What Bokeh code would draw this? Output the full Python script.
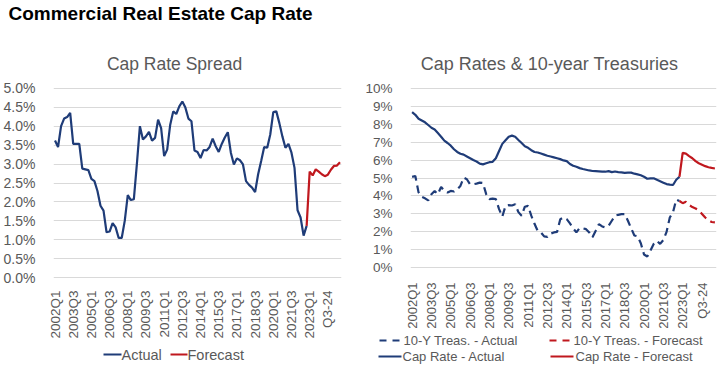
import math
from bokeh.plotting import figure
from bokeh.layouts import row, column
from bokeh.models import Range1d, FixedTicker, PrintfTickFormatter
from bokeh.core.properties import value
from bokeh.embed import file_html
from bokeh.resources import INLINE

# ---------------- data ----------------
N_QUARTERS = 95  # 2002Q1 .. 2025Q3
quarters = []
for i in range(N_QUARTERS):
    yr, q = 2002 + i // 4, i % 4 + 1
    quarters.append(f"{yr}Q{q}" if i <= 84 else f"Q{q}-{yr % 100:02d}")

tick_labels = ["2002Q1", "2003Q3", "2005Q1", "2006Q3", "2008Q1", "2009Q3", "2011Q1", "2012Q3",
               "2014Q1", "2015Q3", "2017Q1", "2018Q3", "2020Q1", "2021Q3", "2023Q1", "Q3-24"]

spread_actual = [3.62, 3.45, 4.00, 4.20, 4.24, 4.35, 3.53, 3.53, 3.53, 2.88,
                 2.86, 2.84, 2.61, 2.55, 2.29, 1.90, 1.77, 1.20, 1.22, 1.44,
                 1.33, 1.05, 1.05, 1.50, 2.18, 2.05, 2.07, 3.00, 4.00, 3.65,
                 3.73, 3.85, 3.62, 3.69, 4.17, 3.95, 3.21, 3.38, 4.04, 4.39,
                 4.32, 4.52, 4.65, 4.49, 4.20, 4.13, 3.36, 3.32, 3.16, 3.37,
                 3.36, 3.45, 3.67, 3.47, 3.32, 3.53, 3.70, 3.84, 3.30, 2.99,
                 3.15, 3.10, 2.99, 2.55, 2.45, 2.38, 2.26, 2.73, 3.08, 3.45,
                 3.43, 3.78, 4.37, 4.39, 4.08, 3.73, 3.43, 3.53, 3.30, 2.90,
                 1.78, 1.59, 1.11, 1.37]
spread_forecast = [1.37, 2.80, 2.70, 2.86, 2.80, 2.73, 2.68, 2.72, 2.85, 2.95, 2.96, 3.05]

cap_actual = [8.67, 8.52, 8.30, 8.20, 8.10, 7.95, 7.80, 7.70, 7.50, 7.30,
              7.08, 6.95, 6.80, 6.60, 6.45, 6.35, 6.30, 6.20, 6.10, 6.00,
              5.92, 5.80, 5.76, 5.82, 5.88, 5.90, 6.10, 6.50, 6.90, 7.10,
              7.30, 7.36, 7.30, 7.12, 6.95, 6.77, 6.68, 6.55, 6.45, 6.42,
              6.36, 6.30, 6.24, 6.20, 6.15, 6.10, 6.05, 5.98, 5.94, 5.78,
              5.68, 5.63, 5.55, 5.50, 5.46, 5.42, 5.39, 5.38, 5.37, 5.36,
              5.35, 5.38, 5.33, 5.36, 5.33, 5.31, 5.29, 5.30, 5.30, 5.24,
              5.20, 5.15, 5.07, 4.96, 4.98, 4.98, 4.90, 4.82, 4.74, 4.66,
              4.63, 4.61, 4.90, 5.07]
cap_forecast = [5.07, 6.40, 6.36, 6.22, 6.10, 5.94, 5.82, 5.74, 5.66, 5.60, 5.56, 5.53]

treas_actual = [5.06, 5.11, 4.20, 3.95, 3.87, 3.75, 4.10, 4.28, 4.10, 4.50,
                4.28, 4.19, 4.28, 4.25, 4.37, 4.56, 5.02, 4.93, 4.65, 4.65,
                4.69, 4.74, 4.72, 4.10, 3.82, 3.85, 3.82, 3.27, 2.85, 3.45,
                3.49, 3.47, 3.54, 3.10, 2.90, 3.40, 3.45, 2.90, 2.45, 2.05,
                1.97, 1.75, 1.72, 1.90, 1.97, 2.00, 2.70, 2.80, 2.71, 2.47,
                2.20, 1.97, 2.21, 2.20, 2.15, 1.97, 1.70, 2.06, 2.43, 2.30,
                2.25, 2.34, 2.62, 2.90, 2.95, 2.99, 2.99, 2.62, 2.20, 1.80,
                1.75, 1.37, 0.74, 0.63, 0.96, 1.33, 1.50, 1.33, 1.55, 2.00,
                2.80, 3.10, 3.80, 3.72]
treas_forecast = [3.72, 3.60, 3.68, 3.50, 3.38, 3.30, 3.20, 3.00, 2.80, 2.65, 2.55, 2.53]

spread_ticks = [0.0, 0.5, 1.0, 1.5, 2.0, 2.5, 3.0, 3.5, 4.0, 4.5, 5.0]
rate_ticks = [0, 1, 2, 3, 4, 5, 6, 7, 8, 9, 10]

main_title = "Commercial Real Estate Cap Rate"
subtitles = ["Cap Rate Spread", "Cap Rates & 10-year Treasuries"]
legend_left = ["Actual", "Forecast"]
legend_right = ["10-Y Treas. - Actual", "10-Y Treas. - Forecast", "Cap Rate - Actual", "Cap Rate - Forecast"]

# ---------------- style ----------------
FONT = "Liberation Sans"
GRAY = "#595959"
GRID = "#D9D9D9"
BLUE = "#1F3C78"
RED = "#C0181E"
LW = 2.2
DASH = "8 5"
HEADER_H = 77

x_act = list(range(len(spread_actual)))
x_fc = list(range(len(spread_actual) - 1, len(spread_actual) - 1 + len(spread_forecast)))
tick_pos = [quarters.index(t) for t in tick_labels]


def blank_fig(w, h):
    p = figure(width=w, height=h, x_range=Range1d(0, w), y_range=Range1d(0, h),
               output_backend="svg", toolbar_location=None,
               x_axis_location=None, y_axis_location=None,
               min_border=0, min_border_left=0, min_border_right=0,
               min_border_top=0, min_border_bottom=0)
    p.title.visible = False
    p.outline_line_color = None
    p.grid.visible = False
    return p


def put_text(p, x, y, txt, size, align="left", color=GRAY, style="normal"):
    p.text(x=[x], y=[y], text=[txt], text_font=value(FONT), text_font_size=value(size),
           text_font_style=style, text_color=color, text_align=align, text_baseline="middle")


def chart_fig(h, y_range, yticks, fmt, border_right, border_bottom, ytick_size, xtick_size, x_standoff):
    p = figure(width=362, height=h, x_range=Range1d(-0.5, N_QUARTERS - 0.5), y_range=y_range,
               output_backend="svg", toolbar_location=None,
               min_border_left=48, min_border_right=border_right,
               min_border_top=10, min_border_bottom=border_bottom)
    p.title.visible = False
    p.outline_line_color = None
    p.xgrid.visible = False
    p.ygrid.grid_line_color = GRID
    p.yaxis.ticker = FixedTicker(ticks=yticks)
    p.yaxis.formatter = PrintfTickFormatter(format=fmt)
    p.xaxis.ticker = FixedTicker(ticks=tick_pos)
    p.xaxis.major_label_overrides = {pos: lbl for pos, lbl in zip(tick_pos, tick_labels)}
    p.xaxis.major_label_orientation = math.pi / 2
    for ax, size in ((p.xaxis, xtick_size), (p.yaxis, ytick_size)):
        ax.axis_line_color = None
        ax.major_tick_line_color = None
        ax.minor_tick_line_color = None
        ax.major_label_text_color = GRAY
        ax.major_label_text_font = FONT
        ax.major_label_text_font_size = size
    p.yaxis.major_label_standoff = 12
    p.xaxis.major_label_standoff = x_standoff
    return p


# ---------------- header (titles) ----------------
header = blank_fig(724, HEADER_H)
put_text(header, 8, HEADER_H - 13.2, main_title, "19px", color="black", style="bold")
put_text(header, 174, HEADER_H - 63.7, subtitles[0], "17.5px", align="center")
put_text(header, 549, HEADER_H - 63.7, subtitles[1], "18px", align="center")

# ---------------- left chart ----------------
P1_H = 269
p1 = chart_fig(P1_H, Range1d(-0.02, 5.02), spread_ticks, "%.1f%%", 21, 68, "14px", "13.5px", 6)
p1.line(x_act, spread_actual, line_color=BLUE, line_width=LW)
p1.line(x_fc, spread_forecast, line_color=RED, line_width=LW)

LG1_H = 375 - HEADER_H - P1_H
lg1 = blank_fig(362, LG1_H)
y1 = 375 - 354
lg1.line([103, 121], [y1, y1], line_color=BLUE, line_width=LW)
put_text(lg1, 121, y1, legend_left[0], "14.5px")
lg1.line([170, 187], [y1, y1], line_color=RED, line_width=LW)
put_text(lg1, 187, y1, legend_left[1], "14.5px")

# ---------------- right chart ----------------
P2_H = 255
p2 = chart_fig(P2_H, Range1d(-0.04, 10.04), rate_ticks, "%d%%", 8, 64, "13.5px", "13px", 8)
p2.line(x_act, treas_actual, line_color=BLUE, line_width=LW, line_dash=DASH)
p2.line(x_fc, treas_forecast, line_color=RED, line_width=LW, line_dash=DASH)
p2.line(x_act, cap_actual, line_color=BLUE, line_width=LW)
p2.line(x_fc, cap_forecast, line_color=RED, line_width=LW)

LG2_H = 375 - HEADER_H - P2_H
lg2 = blank_fig(362, LG2_H)
ya, yb = 375 - 340, 375 - 356
lg2.line([17, 38], [ya, ya], line_color=BLUE, line_width=LW, line_dash="7 6")
put_text(lg2, 41, ya, legend_right[0], "13px")
lg2.line([187, 208], [ya, ya], line_color=RED, line_width=LW, line_dash="7 6")
put_text(lg2, 211, ya, legend_right[1], "13px")
lg2.line([16, 39], [yb, yb], line_color=BLUE, line_width=LW)
put_text(lg2, 40, yb, legend_right[2], "13px")
lg2.line([188, 211], [yb, yb], line_color=RED, line_width=LW)
put_text(lg2, 213, yb, legend_right[3], "13px")

layout = column(header, row(column(p1, row(lg1)), column(p2, row(lg2))))
open("out.html", "w").write(file_html(layout, INLINE))
